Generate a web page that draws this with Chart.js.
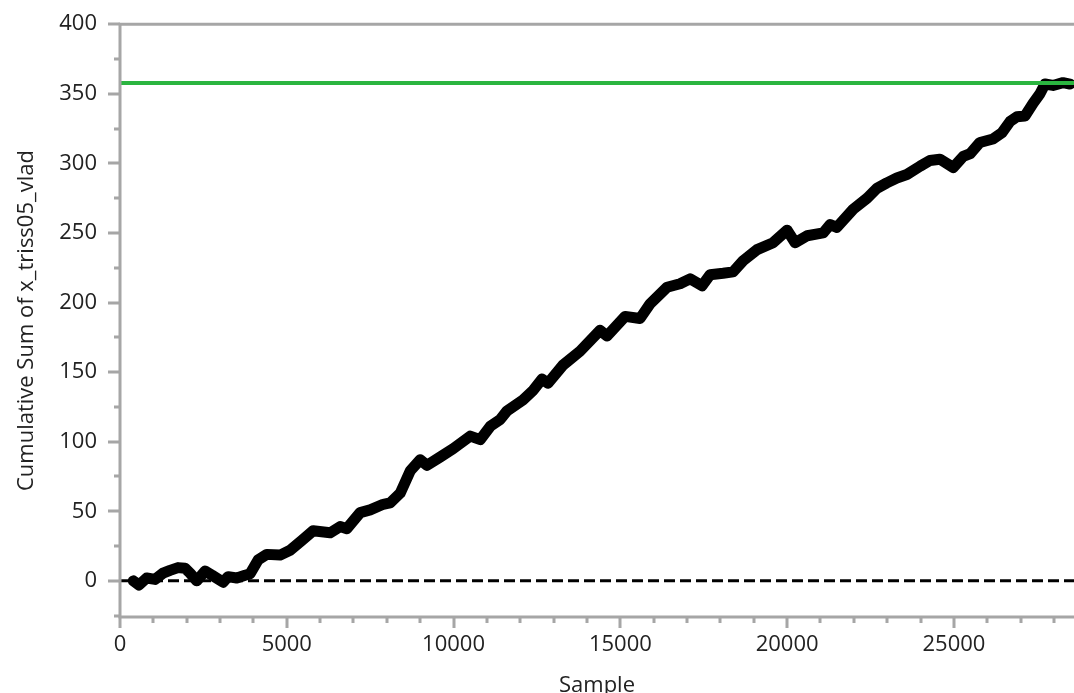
<!DOCTYPE html>
<html>
<head>
<meta charset="utf-8">
<script src="https://cdn.jsdelivr.net/npm/chart.js@4.4.0/dist/chart.umd.min.js"></script>
<style>
  html, body { margin: 0; padding: 0; background: #fff; }
</style>
</head>
<body>
<canvas id="chart" width="1074" height="693"></canvas>
<script>
// values
const sampleX = [400, 570, 800, 1050, 1290, 1500, 1740, 1950, 2100, 2300, 2550, 2760, 3090, 3240, 3500, 3750, 3900,
  4140, 4400, 4800, 5100, 5450, 5790, 6300, 6600, 6800, 7200, 7500, 7890, 8100, 8400, 8700, 9000, 9200, 9600, 9990,
  10500, 10800, 11100, 11400, 11600, 12080, 12390, 12650, 12830, 13280, 13790, 14390, 14600, 15140, 15590, 15890,
  16400, 16790, 17090, 17450, 17690, 18080, 18380, 18680, 19100, 19580, 20000, 20240, 20600, 21080, 21290, 21490,
  21980, 22400, 22690, 22990, 23290, 23590, 23990, 24280, 24580, 24980, 25280, 25490, 25780, 26170, 26440, 26680,
  26890, 27130, 27370, 27580, 27730, 27970, 28270, 28480];
const cumSum = [0, -3, 2, 1, 5.5, 7.5, 9.5, 9, 5.5, 0, 7, 4, -1, 3, 2, 4, 5,
  15, 19, 18.5, 22, 29, 36, 34.5, 39, 37.5, 49, 51, 55, 56, 63, 79, 87, 83, 89, 95,
  104, 101.5, 111, 116, 122, 130, 137, 145, 142, 155, 165, 180, 176, 190, 188.5, 199,
  211, 213.5, 217, 212, 220, 221, 222, 230, 238, 243, 252, 243, 248, 250, 256, 254,
  267, 275, 282, 286, 289.5, 292, 298, 302, 303, 297, 305, 307, 315, 317.5, 322, 330,
  333.5, 334, 343, 350, 357, 356, 358, 357];
const zeroLevel = 0;
const targetLevel = 357.7;
const xRange = [0, 28600];
const yRange = [-26, 400];
const xMajor = 5000, xMinor = 1000;
const yMajor = 50, yMinor = 25;

const axisGray = '#a6a6a6';
const textColor = '#222222';
const fontFamily = "'Open Sans', 'Noto Sans', sans-serif";

const curvePoints = sampleX.map((x, i) => ({ x: x, y: cumSum[i] }));

// tick marks (major + minor), left axis and top border
const axisPlugin = {
  id: 'axisTicks',
  afterDatasetsDraw(chart) {
    const ctx = chart.ctx;
    const area = chart.chartArea;
    const xs = chart.scales.x;
    const ys = chart.scales.y;
    ctx.save();
    ctx.strokeStyle = axisGray;
    ctx.lineWidth = 3;
    ctx.lineCap = 'butt';
    ctx.beginPath();
    // left axis
    ctx.moveTo(area.left, area.top - 1.5);
    ctx.lineTo(area.left, area.bottom + 1.5);
    // bottom axis
    ctx.moveTo(area.left, area.bottom);
    ctx.lineTo(area.right, area.bottom);
    // top border
    ctx.moveTo(area.left, area.top);
    ctx.lineTo(area.right, area.top);
    ctx.stroke();

    ctx.beginPath();
    for (let v = Math.ceil(yRange[0] / yMinor) * yMinor; v <= yRange[1]; v += yMinor) {
      const py = Math.round(ys.getPixelForValue(v));
      const len = v % yMajor === 0 ? 12 : 6;
      ctx.moveTo(area.left - len, py);
      ctx.lineTo(area.left, py);
    }
    for (let v = xRange[0]; v <= xRange[1]; v += xMinor) {
      const px = Math.round(xs.getPixelForValue(v));
      const len = v % xMajor === 0 ? 11 : 6;
      ctx.moveTo(px, area.bottom);
      ctx.lineTo(px, area.bottom + len);
    }
    ctx.stroke();
    ctx.restore();
  }
};

new Chart(document.getElementById('chart'), {
  type: 'line',
  data: {
    datasets: [
      {
        label: 'target',
        data: [{ x: xRange[0], y: targetLevel }, { x: xRange[1], y: targetLevel }],
        borderColor: '#2bb540',
        borderWidth: 4,
        pointRadius: 0,
        order: 1
      },
      {
        label: 'Cumulative Sum',
        data: curvePoints,
        borderColor: '#000000',
        borderWidth: 11,
        borderJoinStyle: 'round',
        borderCapStyle: 'round',
        tension: 0,
        pointRadius: 0,
        order: 2
      },
      {
        label: 'zero',
        data: [{ x: xRange[0], y: zeroLevel }, { x: xRange[1], y: zeroLevel }],
        borderColor: '#000000',
        borderWidth: 3,
        borderDash: [11, 5],
        pointRadius: 0,
        order: 3
      }
    ]
  },
  options: {
    responsive: false,
    animation: false,
    layout: { padding: { top: 23, right: 0, left: 0, bottom: 0 } },
    plugins: {
      legend: { display: false },
      tooltip: { enabled: false }
    },
    scales: {
      x: {
        type: 'linear',
        min: xRange[0],
        max: xRange[1],
        afterFit: s => { s.height = 76; },
        afterBuildTicks: s => {
          const list = [];
          for (let v = xRange[0]; v <= xRange[1]; v += xMajor) list.push({ value: v });
          s.ticks = list;
        },
        ticks: {
          autoSkip: false,
          maxRotation: 0,
          padding: 3,
          color: textColor,
          font: { family: fontFamily, size: 22 },
          callback: v => String(v)
        },
        grid: { drawOnChartArea: false, tickLength: 12, tickColor: 'rgba(0,0,0,0)' },
        border: { display: false },
        title: {
          display: true,
          text: 'Sample',
          color: textColor,
          font: { family: fontFamily, size: 22 },
          padding: { top: 0, bottom: -6 }
        }
      },
      y: {
        type: 'linear',
        min: yRange[0],
        max: yRange[1],
        afterFit: s => { s.width = 120; },
        afterBuildTicks: s => { s.ticks = s.ticks.filter(t => t.value % yMajor === 0); },
        ticks: {
          stepSize: yMajor,
          autoSkip: false,
          padding: 11,
          color: textColor,
          font: { family: fontFamily, size: 22 }
        },
        grid: { drawOnChartArea: false, tickLength: 12, tickColor: 'rgba(0,0,0,0)' },
        border: { display: false },
        title: {
          display: true,
          text: 'Cumulative Sum of x_triss05_vlad',
          color: textColor,
          font: { family: fontFamily, size: 22 },
          padding: { top: 14, bottom: 0 }
        }
      }
    }
  },
  plugins: [axisPlugin]
});
</script>
</body>
</html>
